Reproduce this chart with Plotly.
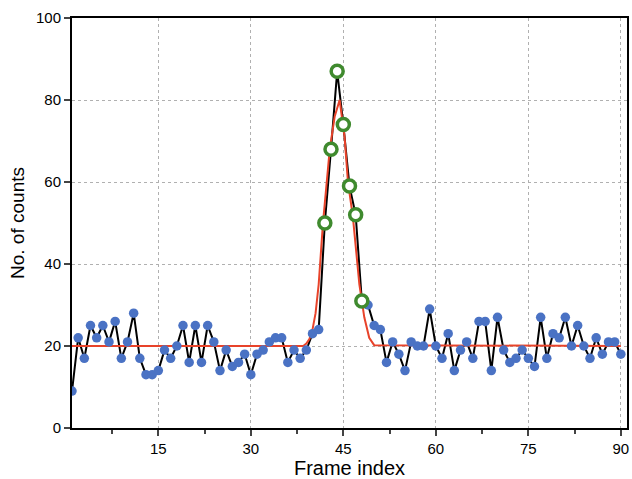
import plotly.graph_objects as go

frames = list(range(1, 91))
counts = [9, 22, 17, 25, 22, 25, 21, 26, 17, 21,
          28, 17, 13, 13, 14, 19, 17, 20, 25, 16,
          25, 16, 25, 21, 14, 19, 15, 16, 18, 13,
          18, 19, 21, 22, 22, 16, 19, 17, 19, 23,
          24, 50, 68, 87, 74, 59, 52, 31, 30, 25,
          24, 16, 21, 18, 14, 21, 20, 20, 29, 20,
          17, 23, 14, 19, 21, 17, 26, 26, 14, 27,
          19, 16, 17, 19, 17, 15, 27, 17, 23, 22,
          27, 20, 25, 20, 17, 22, 18, 21, 21, 18]

peak_frames = [42, 43, 44, 45, 46, 47, 48]

fit_x = [1, 38.5, 39, 39.5, 40, 40.5, 41, 41.7, 42.8, 43.6, 44.4, 45.2, 45.75,
         46.55, 47.6, 48.4, 49.2, 50, 90]
fit_y = [20, 20, 20.6, 21.7, 24, 28, 35, 50, 68, 76, 80, 71, 60,
         51.5, 35, 27, 22, 20.2, 20]

x_ticks = [15, 30, 45, 60, 75, 90]
y_ticks = [0, 20, 40, 60, 80, 100]

peak_counts = [counts[frames.index(f)] for f in peak_frames]
other_x = [f for f in frames if f not in peak_frames]
other_y = [counts[frames.index(f)] for f in other_x]

fig = go.Figure()
fig.add_trace(go.Scatter(x=frames, y=counts, mode="lines",
                         line=dict(color="black", width=2), showlegend=False))
fig.add_trace(go.Scatter(x=fit_x, y=fit_y, mode="lines",
                         line=dict(color="#e8432a", width=2), showlegend=False))
fig.add_trace(go.Scatter(x=other_x, y=other_y, mode="markers",
                         marker=dict(color="#4a72c4", size=9.5), showlegend=False))
fig.add_trace(go.Scatter(x=peak_frames, y=peak_counts, mode="markers",
                         marker=dict(color="white", size=12,
                                     line=dict(color="#3f8a2e", width=3.5)),
                         showlegend=False))

fig.update_layout(
    width=632, height=479,
    margin=dict(l=72, r=3, t=18, b=51),
    paper_bgcolor="white", plot_bgcolor="white",
    font=dict(family="Liberation Sans, Arial, sans-serif", color="black", size=15),
)
fig.update_xaxes(
    range=[1, 91], tickvals=x_ticks, ticks="outside", ticklen=6, tickwidth=1.5,
    minor=dict(tickvals=[7.5, 22.5, 37.5, 52.5, 67.5, 82.5], ticks="outside",
               ticklen=4, tickwidth=1.5, showgrid=False),
    showline=True, linecolor="black", linewidth=2, mirror=True,
    showgrid=True, gridcolor="#b0b0b0", griddash="3px,3px", gridwidth=1,
    zeroline=False,
    title=dict(text="Frame index", font=dict(size=20), standoff=4),
    tickfont=dict(size=15),
)
fig.update_yaxes(
    range=[0, 100], tickvals=y_ticks, ticks="outside", ticklen=6, tickwidth=1.5,
    showline=True, linecolor="black", linewidth=2, mirror=True,
    showgrid=True, gridcolor="#b0b0b0", griddash="3px,3px", gridwidth=1,
    zeroline=False,
    title=dict(text="No. of counts", font=dict(size=19), standoff=6),
    tickfont=dict(size=15),
)

fig.write_html("out.html", config={"displayModeBar": False},
               post_script="document.body.style.margin='0';")
